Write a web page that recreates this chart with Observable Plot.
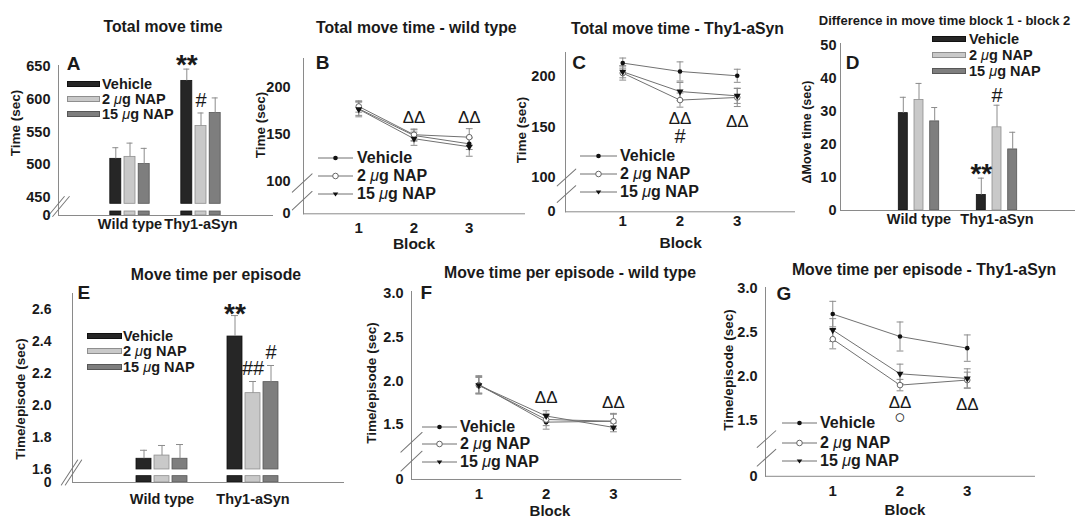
<!DOCTYPE html>
<html><head><meta charset="utf-8">
<script src="https://cdn.jsdelivr.net/npm/d3@7"></script>
<script src="https://cdn.jsdelivr.net/npm/@observablehq/plot@0.6"></script>
<style>
body{margin:0;background:#fff;}
#fig{position:relative;width:1075px;height:517px;overflow:hidden;background:#fff;font-family:"Liberation Sans",Arial,sans-serif;font-weight:bold;color:#1a1a1a;}
.t{position:absolute;white-space:nowrap;line-height:1;}
</style></head><body><div id="fig"></div><script>
// ---------- data ----------
const treatments = ["Vehicle", "2 μg NAP", "15 μg NAP"];
const genotypes = ["Wild type", "Thy1-aSyn"];
const blocks = [1, 2, 3];

// A – total move time (sec): [genotype][treatment]
const totalMoveMean = [[509, 512, 501], [628, 559, 579]];
const totalMoveSem = [[17, 21, 24], [18, 20, 23]];
const totalMoveTicks = [0, 450, 500, 550, 600, 650];

// B – total move time per block, wild type: [treatment][block]
const wtMoveMean = [[177, 148.8, 140], [179.4, 149.6, 147], [176.5, 145.4, 136.9]];
const wtMoveSem = [[7, 6, 6], [6, 6, 9], [8, 7, 10]];
const moveBlockTicks = [0, 100, 150, 200];

// C – total move time per block, Thy1-aSyn: [treatment][block]
const tgMoveMean = [[213.5, 205.2, 200.9], [203.6, 176.8, 179.4], [204.9, 185.3, 181]];
const tgMoveSem = [[5, 9.5, 6.5], [7, 7, 9], [6, 9, 7.5]];

// D – difference block 1 - block 2 (sec): [genotype][treatment]
const deltaMoveMean = [[29.5, 33.5, 27], [4.7, 25.2, 18.5]];
const deltaMoveSem = [[4.8, 5, 4.2], [5.1, 6.7, 5.2]];
const deltaTicks = [0, 10, 20, 30, 40, 50];

// E – move time per episode (sec): [genotype][treatment]
const episodeMean = [[1.667, 1.687, 1.667], [2.431, 2.077, 2.146]];
const episodeSem = [[0.053, 0.063, 0.089], [0.131, 0.073, 0.104]];
const episodeTicks = [0, 1.6, 1.8, 2.0, 2.2, 2.4, 2.6];

// F – per episode per block, wild type: [treatment][block]
const wtEpisodeMean = [[1.96, 1.53, 1.54], [1.95, 1.56, 1.54], [1.95, 1.60, 1.47]];
const wtEpisodeSem = [[0.10, 0.08, 0.09], [0.09, 0.07, 0.08], [0.10, 0.06, 0.05]];
// G – per episode per block, Thy1-aSyn: [treatment][block]
const tgEpisodeMean = [[2.705, 2.45, 2.318], [2.42, 1.898, 1.955], [2.523, 2.026, 1.973]];
const tgEpisodeSem = [[0.145, 0.165, 0.15], [0.11, 0.065, 0.09], [0.13, 0.11, 0.11]];
const episodeBlockTicks = [0, 1.5, 2.0, 2.5, 3.0];

// significance marks
const sigA = [{g: "Thy1-aSyn", ti: 0, y: 651.5, s: "**"}, {g: "Thy1-aSyn", ti: 1, y: 598, s: "#"}];
const sigB = [{block: 2, y: 168, s: "ΔΔ"}, {block: 3, y: 168, s: "ΔΔ"}];
const sigC = [{block: 2, y: 158.2, s: "ΔΔ"}, {block: 2, y: 140.4, s: "#"}, {block: 3, y: 155.8, s: "ΔΔ"}];
const sigD = [{g: "Thy1-aSyn", ti: 0, y: 11, s: "**"}, {g: "Thy1-aSyn", ti: 1, y: 34.7, s: "#"}];
const sigE = [{g: "Thy1-aSyn", ti: 0, y: 2.572, s: "**"}, {g: "Thy1-aSyn", ti: 1, y: 2.232, s: "##"}, {g: "Thy1-aSyn", ti: 2, y: 2.329, s: "#"}];
const sigF = [{block: 2, y: 1.815, s: "ΔΔ"}, {block: 3, y: 1.751, s: "ΔΔ"}];
const sigG = [{block: 2, y: 1.705, s: "ΔΔ"}, {block: 2, y: 1.535, s: "○"}, {block: 3, y: 1.682, s: "ΔΔ"}];

// ---------- styles ----------
const FONT = '"Liberation Sans", Arial, sans-serif';
const AXIS = "#8a8a8a", ERR = "#8c8c8c", LINE = "#707070";
const barFill = ["#262626", "#c9c9c9", "#7e7e7e"];
const barStroke = ["#111111", "#8f8f8f", "#575757"];
const seg = {draw(ctx, l) { ctx.moveTo(0, 0); ctx.lineTo(0, -l); }};
const fig = document.getElementById("fig");
const svgStyle = `font-family:${FONT};font-weight:bold;font-size:14.5px;color:#1a1a1a;background:none;overflow:visible;position:absolute;`;

function text(s, x, y, o = {}) {
  const d = document.createElement("div");
  d.className = "t";
  d.innerHTML = s;
  d.style.fontSize = (o.size || 15) + "px";
  if (o.weight) d.style.fontWeight = o.weight;
  d.style.left = x + "px";
  d.style.top = y + "px";
  d.style.transform = `translate(${o.anchor === "start" ? "0" : "-50%"},-50%)` + (o.rotate ? ` rotate(${o.rotate}deg)` : "");
  fig.appendChild(d);
}
const mu = (s) => s.replace("μ", '<i style="font-weight:normal">μ</i>');
function place(svg, left, top) { svg.style.left = left + "px"; svg.style.top = top + "px"; fig.appendChild(svg); }

// broken axis: values below the break `at` are squeezed into `room` axis units
function makeCut(cut) {
  if (!cut) return (v) => v;
  const [at, room] = cut;
  return (v) => (v >= at ? v : at - room + (v * room) / at);
}

function sigMarks(items, xKey, step, brk) {
  return items.map((a) => {
    const big = a.s === "**";
    return Plot.text([a], {
      x: xKey, y: (d) => brk(d.y), text: "s",
      dx: step ? (a.ti - 1) * step : 0,
      fontSize: big ? 28 : a.s.startsWith("#") ? 20 : a.s === "○" ? 19 : 17,
      fontWeight: big ? "bold" : "normal"
    });
  });
}
function breakMarks(list, len, rot, brk) {
  return list.map((b) => Plot.vector([b.y], {y: (d) => brk(d), frameAnchor: "left", dx: b.dx, length: len, rotate: rot, anchor: "middle", shape: seg, stroke: "#777", strokeWidth: 1}));
}
function yAxis(p, brk) {
  const lab = new Map(p.ticks.map((t) => [brk(t), p.fmt(t)]));
  return Plot.axisY({ticks: p.ticks.map(brk), tickSize: 0, tickPadding: p.yPad, tickFormat: (d) => lab.get(d), fontSize: p.tickFont || 14.5, label: null});
}

function barPanel(p) {
  const mL = 70, mR = 10, mT = 20, mB = 40;
  const left = p.x0 - mL, top = p.y0 - mT;
  const brk = makeCut(p.cut);
  const rows = [];
  p.mean.forEach((m, gi) => m.forEach((v, ti) => rows.push({g: genotypes[gi], ti, mean: v, sem: p.sem[gi][ti]})));
  const marks = [];
  treatments.forEach((t, ti) => {
    const r = rows.filter((d) => d.ti === ti), dx = (ti - 1) * p.step;
    const st = {fill: barFill[ti], stroke: barStroke[ti], strokeWidth: 0.8, dx};
    if (p.gap) marks.push(Plot.barY(r, {x: "g", y1: brk(0), y2: brk(p.gap[0]), ...st}));
    marks.push(Plot.barY(r, {x: "g", y1: brk(p.gap ? p.gap[1] : 0), y2: (d) => brk(d.mean), ...st}));
    marks.push(Plot.ruleX(r, {x: "g", y1: (d) => brk(d.mean), y2: (d) => brk(d.mean + d.sem), stroke: ERR, dx}));
    marks.push(Plot.tickY(r, {x: "g", y: (d) => brk(d.mean + d.sem), stroke: ERR, dx, insetLeft: p.capInset, insetRight: p.capInset}));
  });
  const svg = Plot.plot({
    width: p.x1 - p.x0 + mL + mR, height: p.y1 - p.y0 + mT + mB,
    marginLeft: mL, marginRight: mR, marginTop: mT, marginBottom: mB,
    style: svgStyle,
    x: {type: "band", domain: genotypes, paddingInner: p.pi, paddingOuter: p.po},
    y: {domain: [brk(0), p.yTop]},
    marks: [
      ...marks,
      Plot.frame({anchor: "left", stroke: AXIS}),
      Plot.frame({anchor: "bottom", stroke: AXIS}),
      ...(p.breaks ? breakMarks(p.breaks, p.breakLen, p.breakRot, brk) : []),
      yAxis(p, brk),
      Plot.axisX({tickSize: 0, tickPadding: p.xPad, fontSize: 14.5, label: null}),
      ...sigMarks(p.sig, "g", p.step, brk)
    ]
  });
  place(svg, left, top);
}

function linePanel(p) {
  const mL = 70, mR = 10, mT = 20, mB = 40;
  const left = p.x0 - mL, top = p.y0 - mT;
  const brk = makeCut(p.cut);
  const rows = [];
  p.mean.forEach((m, ti) => m.forEach((v, bi) => rows.push({t: treatments[ti], ti, block: blocks[bi], mean: v, sem: p.sem[ti][bi]})));
  const byT = (i) => rows.filter((d) => d.ti === i);
  const Y = (d) => brk(d.mean);
  const svg = Plot.plot({
    width: p.x1 - p.x0 + mL + mR, height: p.y1 - p.y0 + mT + mB,
    marginLeft: mL, marginRight: mR, marginTop: mT, marginBottom: mB,
    style: svgStyle,
    x: {domain: [0, 4]},
    y: {domain: [brk(0), p.yTop]},
    marks: [
      Plot.frame({anchor: "left", stroke: AXIS}),
      Plot.frame({anchor: "bottom", stroke: AXIS}),
      ...breakMarks(p.breaks, p.breakLen, p.breakRot, brk),
      yAxis(p, brk),
      Plot.axisX({ticks: blocks, tickSize: 0, tickPadding: p.xPad, tickFormat: (d) => String(d), fontSize: 15, label: null}),
      Plot.ruleX(rows, {x: "block", y1: (d) => brk(d.mean - d.sem), y2: (d) => brk(d.mean + d.sem), stroke: ERR}),
      Plot.vector(rows, {x: "block", y: (d) => brk(d.mean + d.sem), length: 6, rotate: 90, anchor: "middle", shape: seg, stroke: ERR, strokeWidth: 1}),
      Plot.vector(rows, {x: "block", y: (d) => brk(d.mean - d.sem), length: 6, rotate: 90, anchor: "middle", shape: seg, stroke: ERR, strokeWidth: 1}),
      Plot.line(rows, {x: "block", y: Y, z: "t", stroke: LINE, strokeWidth: 1}),
      Plot.dot(byT(0), {x: "block", y: Y, r: 2.3, fill: "#111"}),
      Plot.dot(byT(1), {x: "block", y: Y, r: 2.8, fill: "white", stroke: "#666", strokeWidth: 1}),
      Plot.dot(byT(2), {x: "block", y: Y, symbol: "triangle", r: 2.6, rotate: 180, fill: "#111"}),
      ...sigMarks(p.sig, "block", 0, brk)
    ]
  });
  place(svg, left, top);
}

function barLegend(x0, x1, xt, ys, size) {
  treatments.forEach((t, i) => {
    const sw = document.createElement("div");
    sw.style.cssText = `position:absolute;left:${x0}px;top:${ys[i] - 3}px;width:${x1 - x0}px;height:6px;box-sizing:border-box;background:${barFill[i]};border:1px solid ${barStroke[i]};`;
    fig.appendChild(sw);
    text(mu(t), xt, ys[i], {size, anchor: "start"});
  });
}
function lineLegend(x0, x1, xt, ys, size) {
  treatments.forEach((t, i) => {
    const w = x1 - x0;
    const s = d3.create("svg").attr("width", w).attr("height", 10)
      .style("position", "absolute").style("left", x0 + "px").style("top", (ys[i] - 5) + "px").style("overflow", "visible");
    s.append("line").attr("x1", 0).attr("x2", w).attr("y1", 5).attr("y2", 5).attr("stroke", LINE);
    if (i === 0) s.append("circle").attr("cx", w / 2).attr("cy", 5).attr("r", 2.3).attr("fill", "#111");
    if (i === 1) s.append("circle").attr("cx", w / 2).attr("cy", 5).attr("r", 2.8).attr("fill", "white").attr("stroke", "#666");
    if (i === 2) s.append("path").attr("d", `M${w / 2 - 2.8},3.4L${w / 2 + 2.8},3.4L${w / 2},7.6Z`).attr("fill", "#111");
    fig.appendChild(s.node());
    text(mu(t), xt, ys[i], {size, anchor: "start"});
  });
}
const fmt0 = (d) => String(d);
const fmt1 = (d) => (d === 0 ? "0" : d.toFixed(1));

// ---------- panels ----------
barPanel({x0: 58, x1: 272, y0: 65, y1: 215, mean: totalMoveMean, sem: totalMoveSem,
  cut: [450, 27.5], yTop: 651.5, ticks: totalMoveTicks, fmt: fmt0,
  pi: 0.84, po: 0.913, step: 14.2, capInset: 2.5, gap: [100, 292], yPad: 8, xPad: 3,
  breaks: [{y: 225, dx: -2.5}, {y: 225, dx: 2.5}], breakLen: 26, breakRot: 40, sig: sigA});

linePanel({x0: 303, x1: 524, y0: 58, y1: 213.3, mean: wtMoveMean, sem: wtMoveSem,
  cut: [100, 33.8], yTop: 230, ticks: moveBlockTicks, fmt: fmt0,
  yPad: 13, xPad: 9, breaks: [{y: 96.2, dx: -1.3}, {y: 41, dx: -1.3}], breakLen: 27, breakRot: 47, sig: sigB});

linePanel({x0: 565, x1: 794, y0: 51.7, y1: 211, mean: tgMoveMean, sem: tgMoveSem,
  cut: [100, 34], yTop: 224, ticks: moveBlockTicks, fmt: fmt0,
  yPad: 10, xPad: 4, breaks: [{y: 100, dx: 1}, {y: 51.6, dx: 1}], breakLen: 25, breakRot: 48, sig: sigC});

barPanel({x0: 840, x1: 1075, y0: 43, y1: 210, mean: deltaMoveMean, sem: deltaMoveSem,
  cut: null, yTop: 50.6, ticks: deltaTicks, fmt: fmt0,
  pi: 0.879, po: 0.933, step: 15.7, capInset: 1.5, gap: null, yPad: 4, xPad: 3, sig: sigD});

barPanel({x0: 72, x1: 343, y0: 293, y1: 482, mean: episodeMean, sem: episodeSem,
  cut: [1.6, 0.0814], yTop: 2.7, ticks: episodeTicks, fmt: fmt1, tickFont: 14,
  pi: 0.83, po: 0.9, step: 18, capInset: 4, gap: [0.78, 1.6], yPad: 21, xPad: 11,
  breaks: [{y: 1.23, dx: -3}, {y: 1.23, dx: 1}], breakLen: 30, breakRot: 33, sig: sigE});

linePanel({x0: 410.7, x1: 680, y0: 291, y1: 479, mean: wtEpisodeMean, sem: wtEpisodeSem,
  cut: [1.25, 0.374], yTop: 3.02, ticks: episodeBlockTicks, fmt: fmt1,
  yPad: 8, xPad: 9, breaks: [{y: 1.30, dx: 0}, {y: 0.70, dx: 0}], breakLen: 29, breakRot: 47, sig: sigF});

linePanel({x0: 765, x1: 1034, y0: 286.7, y1: 475.5, mean: tgEpisodeMean, sem: tgEpisodeSem,
  cut: [1.25, 0.3886], yTop: 3.007, ticks: episodeBlockTicks, fmt: fmt1,
  yPad: 8, xPad: 9, breaks: [{y: 1.284, dx: 1}, {y: 0.68, dx: 1}], breakLen: 25, breakRot: 48, sig: sigG});

// ---------- legends ----------
barLegend(67, 100, 102, [84.3, 99.3, 114.3], 14.5);
lineLegend(318, 353, 357, [158.3, 176, 194], 16);
lineLegend(580, 617, 620, [156, 174, 192.3], 16);
barLegend(932, 966, 969, [39, 55, 71], 14.5);
barLegend(87, 122, 123, [336, 351, 366.5], 14.5);
lineLegend(422, 457, 460, [426.7, 444.3, 462.3], 16);
lineLegend(782, 817, 820, [423.3, 442.7, 460.7], 16);

// ---------- titles, panel letters, axis labels ----------
text("Total move time", 163, 27.2, {size: 15.8});
text("Total move time - wild type", 416.3, 27.5, {size: 15.8});
text("Total move time - Thy1-aSyn", 677.5, 29, {size: 15.8});
text("Difference in move time block 1 - block 2", 944.5, 19.5, {size: 13});
text("Move time per episode", 216, 275, {size: 15.8});
text("Move time per episode - wild type", 570, 273.4, {size: 15.8});
text("Move time per episode - Thy1-aSyn", 924, 270.2, {size: 15.8});

[["A", 73.7, 62.5], ["B", 322.5, 61.7], ["C", 579, 61.7], ["D", 852.5, 61.7],
 ["E", 83.8, 291.7], ["F", 426.3, 291.7], ["G", 784, 293]].forEach(([s, x, y]) => text(s, x, y, {size: 19}));

text("Time (sec)", 15.8, 122.5, {size: 13.5, rotate: -90});
text("Time (sec)", 261, 125, {size: 13.5, rotate: -90});
text("Time (sec)", 522, 130, {size: 13.5, rotate: -90});
text("ΔMove time (sec)", 807, 132, {size: 12.5, rotate: -90});
text("Time/episode (sec)", 21, 398.5, {size: 13.5, rotate: -90});
text("Time/episode (sec)", 371.7, 383, {size: 13.5, rotate: -90});
text("Time/episode (sec)", 728.5, 370, {size: 13.5, rotate: -90});

text("Block", 414, 243.5, {size: 15.5});
text("Block", 680.7, 243, {size: 15.5});
text("Block", 550, 509.5, {size: 15});
text("Block", 905, 509, {size: 15});
</script></body></html>
